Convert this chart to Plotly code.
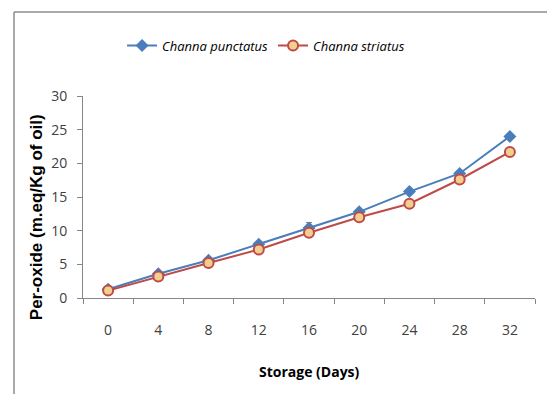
import plotly.graph_objects as go

days = ["0", "4", "8", "12", "16", "20", "24", "28", "32"]
punctatus = [1.3, 3.6, 5.6, 8.0, 10.4, 12.8, 15.8, 18.5, 24.0]
punctatus_err = [0, 0, 0, 0, 0.8, 0, 0, 0, 0]
striatus = [1.1, 3.2, 5.2, 7.2, 9.7, 12.0, 14.0, 17.6, 21.7]

fig = go.Figure()
fig.add_trace(go.Scatter(
    x=days, y=punctatus, name="<i>Channa punctatus</i>", mode="lines+markers",
    line=dict(color="#4A7EBB", width=2),
    marker=dict(symbol="diamond", size=10, color="#4A7EBB"),
    error_y=dict(type="data", array=punctatus_err, color="#7F7F7F", thickness=1, width=3),
))
fig.add_trace(go.Scatter(
    x=days, y=striatus, name="<i>Channa striatus</i>", mode="lines+markers",
    line=dict(color="#BE4B48", width=2),
    marker=dict(symbol="circle", size=10, color="#F2CF8F",
                line=dict(color="#BE4B48", width=2)),
))

axis_font = dict(family="Open Sans", size=14, color="#404040")
fig.update_layout(
    width=547, height=394, autosize=False,
    margin=dict(l=83, r=12, t=96, b=96),
    paper_bgcolor="white", plot_bgcolor="white",
    showlegend=True,
    legend=dict(orientation="h", x=0.405, xanchor="center", y=1.25, yanchor="middle",
                font=dict(family="Open Sans", size=13, color="#000000")),
    xaxis=dict(type="category", range=[-0.5, 8.5], tickson="boundaries",
               ticks="outside", ticklen=5, tickcolor="#868686",
               showline=True, linecolor="#868686", linewidth=1,
               showgrid=False, zeroline=False, tickfont=axis_font,
               ticklabelstandoff=19),
    yaxis=dict(range=[0, 30], dtick=5, ticks="outside", ticklen=5, tickcolor="#868686",
               showline=True, linecolor="#868686", linewidth=1,
               showgrid=False, zeroline=False, tickfont=axis_font,
               ticklabelstandoff=7),
    annotations=[
        dict(text="<b>Storage (Days)</b>", xref="paper", yref="paper",
             x=0.5, y=-0.366, xanchor="center", yanchor="middle", showarrow=False,
             font=dict(family="Open Sans", size=14, color="#000000")),
        dict(text="<b>Per-oxide (m.eq/Kg of oil)</b>", xref="paper", yref="paper",
             x=-47/452, y=0.40, xanchor="center", yanchor="middle", showarrow=False,
             textangle=-90,
             font=dict(family="Liberation Sans", size=17, color="#000000")),
    ],
)

# frame lines (top and left) like the reference screenshot border
fig.add_shape(type="line", xref="paper", yref="paper", x0=-69/452, x1=1.03, y0=(298-12)/202, y1=(298-12)/202,
              line=dict(color="#8C8C8C", width=1.5))
fig.add_shape(type="line", xref="paper", yref="paper", x0=-69/452, x1=-69/452, y0=(298-12)/202, y1=-0.5,
              line=dict(color="#8C8C8C", width=1.5))

fig.write_html("out.html")
